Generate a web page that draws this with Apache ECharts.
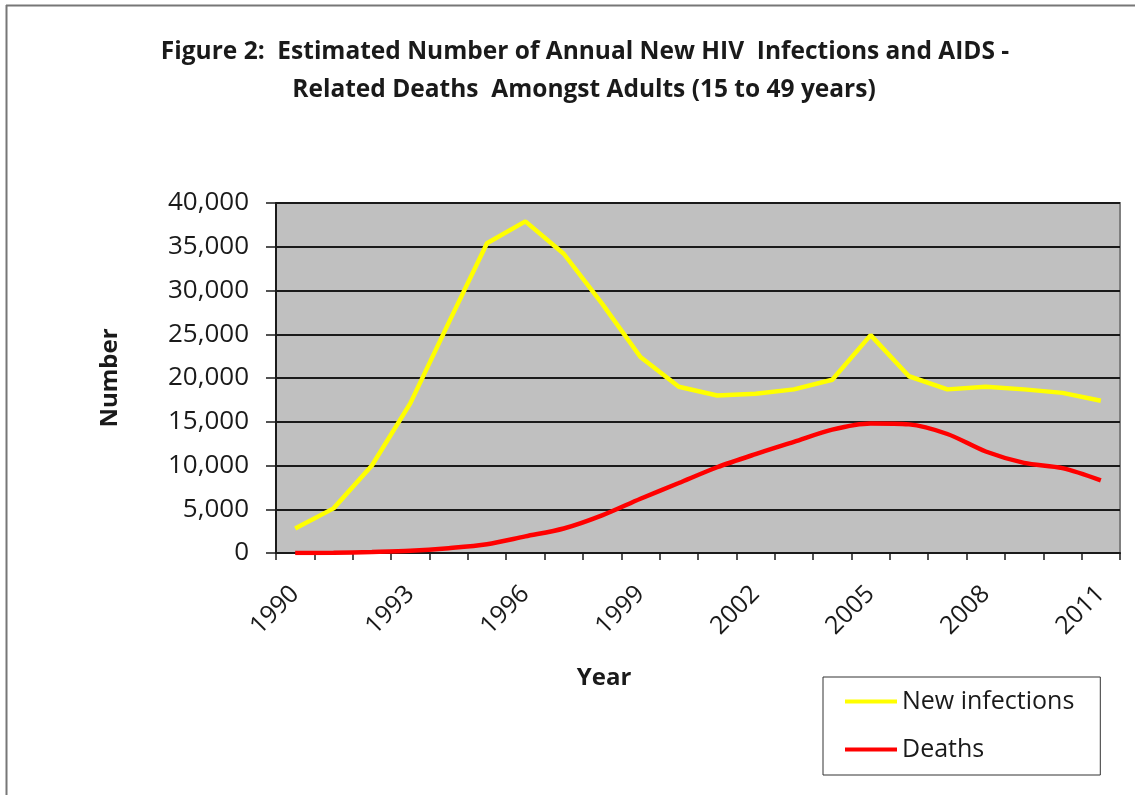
<!DOCTYPE html>
<html>
<head>
<meta charset="utf-8">
<title>Annual New HIV Infections and AIDS-Related Deaths</title>
<script src="https://cdn.jsdelivr.net/npm/echarts@6/dist/echarts.min.js"></script>
<style>
  html, body { margin: 0; padding: 0; background: #ffffff; }
  #chart { width: 1135px; height: 795px; }
</style>
</head>
<body>
<div id="chart"></div>
<script>
// Years on the category axis
const years = ['1990','1991','1992','1993','1994','1995','1996','1997','1998','1999','2000',
               '2001','2002','2003','2004','2005','2006','2007','2008','2009','2010','2011'];

// Estimated annual new HIV infections, adults 15-49
const newInfections = [2800, 5100, 10000, 17100, 26300, 35400, 37900, 34200, 28500, 22400, 19000,
                       18000, 18200, 18700, 19800, 24900, 20200, 18700, 19000, 18700, 18300, 17400];

// Estimated annual AIDS-related deaths, adults 15-49
const deaths = [0, 30, 120, 250, 550, 1000, 1900, 2800, 4300, 6200, 8000,
                9800, 11300, 12700, 14100, 14800, 14700, 13600, 11600, 10300, 9700, 8300];

// Y-axis range and step
const yMin = 0, yMax = 40000, yStep = 5000;

const titleLines = [
  'Figure 2:  Estimated Number of Annual New HIV  Infections and AIDS -',
  'Related Deaths  Amongst Adults (15 to 49 years)'
];
const xAxisTitle = 'Year';
const yAxisTitle = 'Number';

const chart = echarts.init(document.getElementById('chart'), null, { renderer: 'canvas' });

const font = 'Open Sans';
const ink = '#1a1a1a';

chart.setOption({
  animation: false,
  backgroundColor: '#ffffff',
  legend: {
    orient: 'vertical',
    left: 823,
    top: 677,
    padding: [12, 26, 13, 22],
    itemGap: 23,
    itemWidth: 52,
    itemHeight: 4,
    icon: 'rect',
    backgroundColor: '#ffffff',
    borderColor: '#333333',
    borderWidth: 1,
    textStyle: { fontFamily: font, fontSize: 25, color: ink },
    data: [
      { name: 'New infections', itemStyle: { color: '#ffff00' } },
      { name: 'Deaths', itemStyle: { color: '#ff0000' } }
    ]
  },
  grid: {
    left: 276,
    top: 203,
    width: 844,
    height: 350,
    show: true,
    backgroundColor: '#c0c0c0',
    borderColor: '#808080',
    borderWidth: 2
  },
  xAxis: {
    type: 'category',
    data: years,
    boundaryGap: true,
    axisLine: { lineStyle: { color: ink, width: 2 } },
    axisTick: { show: true, length: 7, interval: 0, lineStyle: { color: ink, width: 1.5 } },
    axisLabel: {
      interval: 2,
      rotate: 45,
      margin: 37,
      fontFamily: font,
      fontSize: 25,
      color: ink
    },
    splitLine: { show: false }
  },
  yAxis: {
    type: 'value',
    min: yMin,
    max: yMax,
    interval: yStep,
    name: yAxisTitle,
    nameLocation: 'middle',
    nameGap: 154,
    nameTextStyle: { fontFamily: font, fontWeight: 'bold', fontSize: 24, color: ink },
    axisLine: { show: true, lineStyle: { color: ink, width: 2 } },
    axisTick: { show: true, length: 10, lineStyle: { color: ink, width: 1.5 } },
    axisLabel: {
      margin: 27,
      fontFamily: font,
      fontSize: 26,
      color: ink,
      formatter: v => v.toLocaleString('en-US')
    },
    splitLine: { show: true, lineStyle: { color: ink, width: 2 } }
  },
  series: [
    {
      name: 'New infections',
      type: 'line',
      data: newInfections,
      symbol: 'none',
      lineStyle: { color: '#ffff00', width: 4.5 },
      itemStyle: { color: '#ffff00' },
      z: 3
    },
    {
      name: 'Deaths',
      type: 'line',
      data: deaths,
      symbol: 'none',
      smooth: 0.3,
      lineStyle: { color: '#ff0000', width: 4.5 },
      itemStyle: { color: '#ff0000' },
      z: 3
    }
  ],
  graphic: [
    // Outer frame: top and left edges
    { type: 'line', shape: { x1: 6, y1: 5.5, x2: 1135, y2: 5.5 }, style: { stroke: '#777777', lineWidth: 2 } },
    { type: 'line', shape: { x1: 6.5, y1: 5, x2: 6.5, y2: 795 }, style: { stroke: '#777777', lineWidth: 2 } },
    // Two-line figure title
    {
      type: 'text', x: 585, y: 52,
      style: { text: titleLines[0], align: 'center', verticalAlign: 'middle',
               font: 'bold 24.5px "Open Sans"', fill: ink }
    },
    {
      type: 'text', x: 584, y: 90,
      style: { text: titleLines[1], align: 'center', verticalAlign: 'middle',
               font: 'bold 24.5px "Open Sans"', fill: ink }
    },
    // X-axis title
    {
      type: 'text', x: 604, y: 678,
      style: { text: xAxisTitle, align: 'center', verticalAlign: 'middle',
               font: 'bold 24px "Open Sans"', fill: ink }
    }
  ]
});
</script>
</body>
</html>
